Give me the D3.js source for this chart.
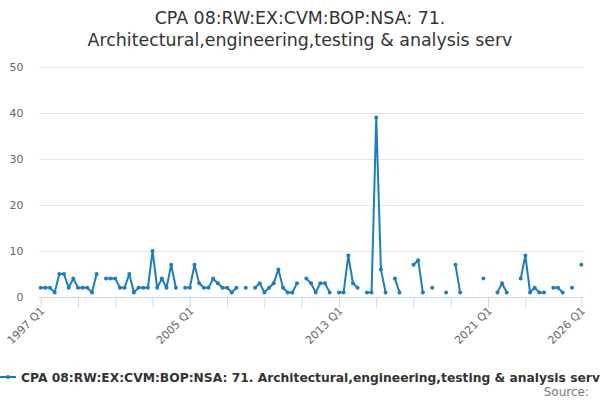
<!DOCTYPE html>
<html>
<head>
<meta charset="utf-8">
<script src="https://cdn.jsdelivr.net/npm/d3@7"></script>
<style>
  body { margin: 0; background: #fff; }
  svg { font-family: "DejaVu Sans", sans-serif; }
</style>
</head>
<body>
<svg id="chart" width="600" height="400"></svg>
<script>
// quarters 1997 Q1 .. 2026 Q1
const years = d3.range(1997, 2027);
const quarters = ["Q1", "Q2", "Q3", "Q4"];
const categories = [];
years.forEach(function(y){
    quarters.forEach(function(q){
        if (y < 2026 || q == "Q1") categories.push(y + " " + q);
    });
});

// values, null = no data
const values = [
  2, 2, 2, 1, 5, 5, 2, 4, 2, 2, 2, 1, 5, null, 4, 4,
  4, 2, 2, 5, 1, 2, 2, 2, 10, 2, 4, 2, 7, 2, null, 2,
  2, 7, 3, 2, 2, 4, 3, 2, 2, 1, 2, null, 2, null, 2, 3,
  1, 2, 3, 6, 2, 1, 1, 3, null, 4, 3, 1, 3, 3, 1, null,
  1, 1, 9, 3, 2, null, 1, 1, 39, 6, 1, null, 4, 1, null, null,
  7, 8, 1, null, 2, null, null, 1, null, 7, 1, null, null, null, null, 4,
  null, null, 1, 3, 1, null, null, 4, 9, 1, 2, 1, 1, null, 2, 2,
  1, null, 2, null, 7
];

const tickCats = ["1997 Q1","1999 Q1","2001 Q1","2003 Q1","2005 Q1","2007 Q1","2009 Q1",
  "2011 Q1","2013 Q1","2015 Q1","2017 Q1","2019 Q1","2021 Q1","2023 Q1","2026 Q1"];
const labelCats = ["1997 Q1","2005 Q1","2013 Q1","2021 Q1","2026 Q1"];
const yTicks = [0, 10, 20, 30, 40, 50];

const seriesName = "CPA 08:RW:EX:CVM:BOP:NSA: 71. Architectural,engineering,testing & analysis serv";
const titleLines = ["CPA 08:RW:EX:CVM:BOP:NSA: 71.", "Architectural,engineering,testing & analysis serv"];

const blue = "#1b7dc2";
const svg = d3.select("#chart");

var x = d3.scalePoint().domain(categories).range([40.7, 581.3]);
var y = d3.scaleLinear().domain([0, 50]).range([297, 67]);

// title
svg.append("text")
    .attr("x", 300)
    .attr("text-anchor", "middle")
    .attr("font-size", "17.4px")
    .attr("fill", "#333")
    .selectAll("tspan")
    .data(titleLines)
    .enter().append("tspan")
    .attr("x", 300)
    .attr("y", (d, i) => 24 + i * 22)
    .text(d => d);

// gridlines
svg.append("g")
    .selectAll("line")
    .data(yTicks)
    .enter().append("line")
    .attr("x1", 39).attr("x2", 583)
    .attr("y1", d => y(d) + 0.5).attr("y2", d => y(d) + 0.5)
    .attr("stroke", d => d == 0 ? "#ccd6eb" : "#e6e6e6")
    .attr("stroke-width", 1);

// y labels
svg.append("g")
    .selectAll("text")
    .data(yTicks)
    .enter().append("text")
    .attr("x", 23.5)
    .attr("y", d => y(d))
    .attr("dy", "0.35em")
    .attr("text-anchor", "end")
    .attr("font-size", "11px")
    .attr("fill", "#666")
    .text(d => d);

// x axis
var xAxis = svg.append("g")
    .attr("transform", "translate(0," + (y(0) + 0.5) + ")")
    .call(d3.axisBottom(x).tickValues(tickCats).tickSize(10).tickSizeOuter(0)
        .tickFormat(d => labelCats.indexOf(d) >= 0 ? d : ""));
xAxis.select(".domain").remove();
xAxis.selectAll(".tick line").attr("stroke", "#ccd6eb");
xAxis.selectAll(".tick text")
    .attr("font-size", "11px")
    .attr("font-family", "DejaVu Sans, sans-serif")
    .attr("fill", "#666")
    .attr("text-anchor", "end")
    .attr("dy", null)
    .attr("y", 0)
    .attr("transform", "translate(4,14) rotate(-45)");

// series
var pts = categories.map((c, i) => ({cat: c, v: values[i]}));
var line = d3.line()
    .defined(d => d.v != null)
    .x(d => x(d.cat))
    .y(d => y(d.v));

svg.append("path")
    .datum(pts)
    .attr("fill", "none")
    .attr("stroke", blue)
    .attr("stroke-width", 2)
    .attr("stroke-linejoin", "round")
    .attr("d", line);

svg.append("g")
    .selectAll("circle")
    .data(pts.filter(d => d.v != null))
    .enter().append("circle")
    .attr("cx", d => x(d.cat))
    .attr("cy", d => y(d.v))
    .attr("r", 2)
    .attr("fill", blue);

// legend
var lg = svg.append("g").attr("transform", "translate(0,377)");
lg.append("line").attr("x1", 0).attr("x2", 16).attr("y1", 0).attr("y2", 0)
    .attr("stroke", blue).attr("stroke-width", 2);
lg.append("circle").attr("cx", 8).attr("cy", 0).attr("r", 2).attr("fill", blue);
lg.append("text")
    .attr("x", 21).attr("y", 4.5)
    .attr("font-size", "12.3px")
    .attr("font-weight", "bold")
    .attr("fill", "#333")
    .text(seriesName);

svg.append("text")
    .attr("x", 589).attr("y", 396)
    .attr("text-anchor", "end")
    .attr("font-size", "12px")
    .attr("fill", "#777")
    .text("Source:");
</script>
</body>
</html>
